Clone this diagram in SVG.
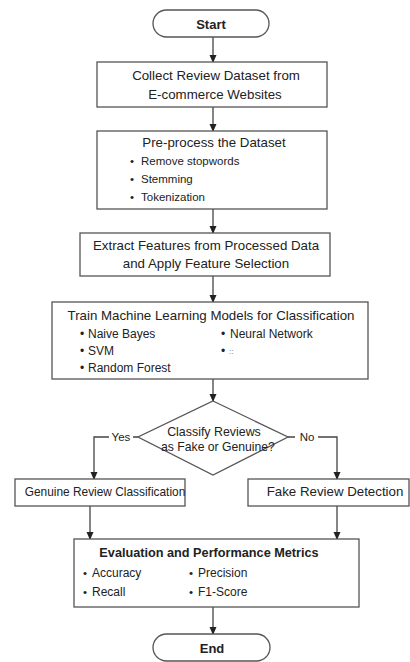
<svg xmlns="http://www.w3.org/2000/svg" width="410" height="662" viewBox="0 0 410 662">
  <defs>
    <marker id="arrow" markerWidth="8" markerHeight="8" refX="7" refY="4" orient="auto" markerUnits="userSpaceOnUse">
      <path d="M0,0.5 L8,4 L0,7.5 z" fill="#222"/>
    </marker>
    <style>
      .box { fill: #fff; stroke: #555; stroke-width: 1.3; }
      .line { fill: none; stroke: #444; stroke-width: 1.3; }
      text { font-family: "Liberation Sans", Arial, sans-serif; fill: #222; }
      .t { font-size: 13.3px; text-anchor: middle; }
      .b { font-size: 11.5px; }
      .b2 { font-size: 12px; }
      .bold { font-weight: bold; font-size: 13px; text-anchor: middle; }
      .lbl { font-size: 11.5px; text-anchor: middle; }
    </style>
  </defs>
  <rect width="410" height="662" fill="#fff"/>

  <!-- connectors -->
  <g id="connectors">
    <line class="line" x1="213" y1="37" x2="213" y2="62" marker-end="url(#arrow)"/>
    <line class="line" x1="213" y1="107" x2="213" y2="131" marker-end="url(#arrow)"/>
    <line class="line" x1="213" y1="209" x2="213" y2="233" marker-end="url(#arrow)"/>
    <line class="line" x1="213" y1="276" x2="213" y2="302" marker-end="url(#arrow)"/>
    <line class="line" x1="213" y1="379" x2="213" y2="401" marker-end="url(#arrow)"/>
    <path class="line" d="M138,437 H133 M109,437 H94 V479" marker-end="url(#arrow)"/>
    <path class="line" d="M288,437 H295 M318,437 H337 V479" marker-end="url(#arrow)"/>
    <line class="line" x1="90" y1="506" x2="90" y2="539" marker-end="url(#arrow)"/>
    <line class="line" x1="337" y1="506" x2="337" y2="539" marker-end="url(#arrow)"/>
    <line class="line" x1="213" y1="607" x2="213" y2="634" marker-end="url(#arrow)"/>
    <text class="lbl" x="121" y="441">Yes</text>
    <text class="lbl" x="307" y="441">No</text>
  </g>

  <g id="start">
    <rect class="box" x="153" y="10" width="116" height="27" rx="13.5"/>
    <text class="bold" x="211" y="29">Start</text>
  </g>

  <g id="collect">
    <rect class="box" x="97" y="62" width="230" height="45"/>
    <text class="t" x="216" y="80">Collect Review Dataset from</text>
    <text class="t" x="215" y="99">E-commerce Websites</text>
  </g>

  <g id="preprocess">
    <rect class="box" x="97" y="131" width="230" height="78"/>
    <text class="t" x="214" y="147">Pre-process the Dataset</text>
    <text class="b" x="130" y="165">•</text>
    <text class="b" x="141" y="165">Remove stopwords</text>
    <text class="b" x="130" y="183">•</text>
    <text class="b" x="141" y="183">Stemming</text>
    <text class="b" x="130" y="201">•</text>
    <text class="b" x="141" y="201">Tokenization</text>
  </g>

  <g id="features">
    <rect class="box" x="80" y="233" width="250" height="43"/>
    <text class="t" x="206" y="250">Extract Features from Processed Data</text>
    <text class="t" x="206" y="268">and Apply Feature Selection</text>
  </g>

  <g id="train">
    <rect class="box" x="52" y="302" width="316" height="77"/>
    <text class="t" x="211" y="320">Train Machine Learning Models for Classification</text>
    <text class="b2" x="80" y="338">•</text>
    <text class="b2" x="88" y="338">Naive Bayes</text>
    <text class="b2" x="80" y="355">•</text>
    <text class="b2" x="88" y="355">SVM</text>
    <text class="b2" x="80" y="372">•</text>
    <text class="b2" x="88" y="372">Random Forest</text>
    <text class="b2" x="221" y="338">•</text>
    <text class="b2" x="230" y="338">Neural Network</text>
    <text class="b2" x="221" y="355">•</text>
    <text class="b" x="229" y="354" style="font-size:8px;fill:#666">::</text>
  </g>

  <g id="decision">
    <polygon class="box" points="213,401 288,437 213,475 138,437"/>
    <text class="t" x="214" y="436" style="font-size:12.4px">Classify Reviews</text>
    <text class="t" x="218" y="451" style="font-size:12.2px">as Fake or Genuine?</text>
  </g>

  <g id="genuine">
    <rect class="box" x="15" y="479" width="170" height="27"/>
    <text class="t" x="105" y="496" style="font-size:11.9px">Genuine Review Classification</text>
  </g>

  <g id="fake">
    <rect class="box" x="248" y="479" width="161" height="27"/>
    <text class="t" x="335" y="496">Fake Review Detection</text>
  </g>

  <g id="evaluation">
    <rect class="box" x="74" y="539" width="285" height="68"/>
    <text class="bold" x="209" y="557" style="font-size:12.7px">Evaluation and Performance Metrics</text>
    <text class="b" x="83" y="577">•</text>
    <text class="b2" x="92" y="577">Accuracy</text>
    <text class="b" x="83" y="596">•</text>
    <text class="b2" x="92" y="596">Recall</text>
    <text class="b" x="189" y="577">•</text>
    <text class="b2" x="198" y="577">Precision</text>
    <text class="b" x="189" y="596">•</text>
    <text class="b2" x="198" y="596">F1-Score</text>
  </g>

  <g id="end">
    <rect class="box" x="153" y="634" width="117" height="27" rx="13.5"/>
    <text class="bold" x="212" y="653">End</text>
  </g>
</svg>
